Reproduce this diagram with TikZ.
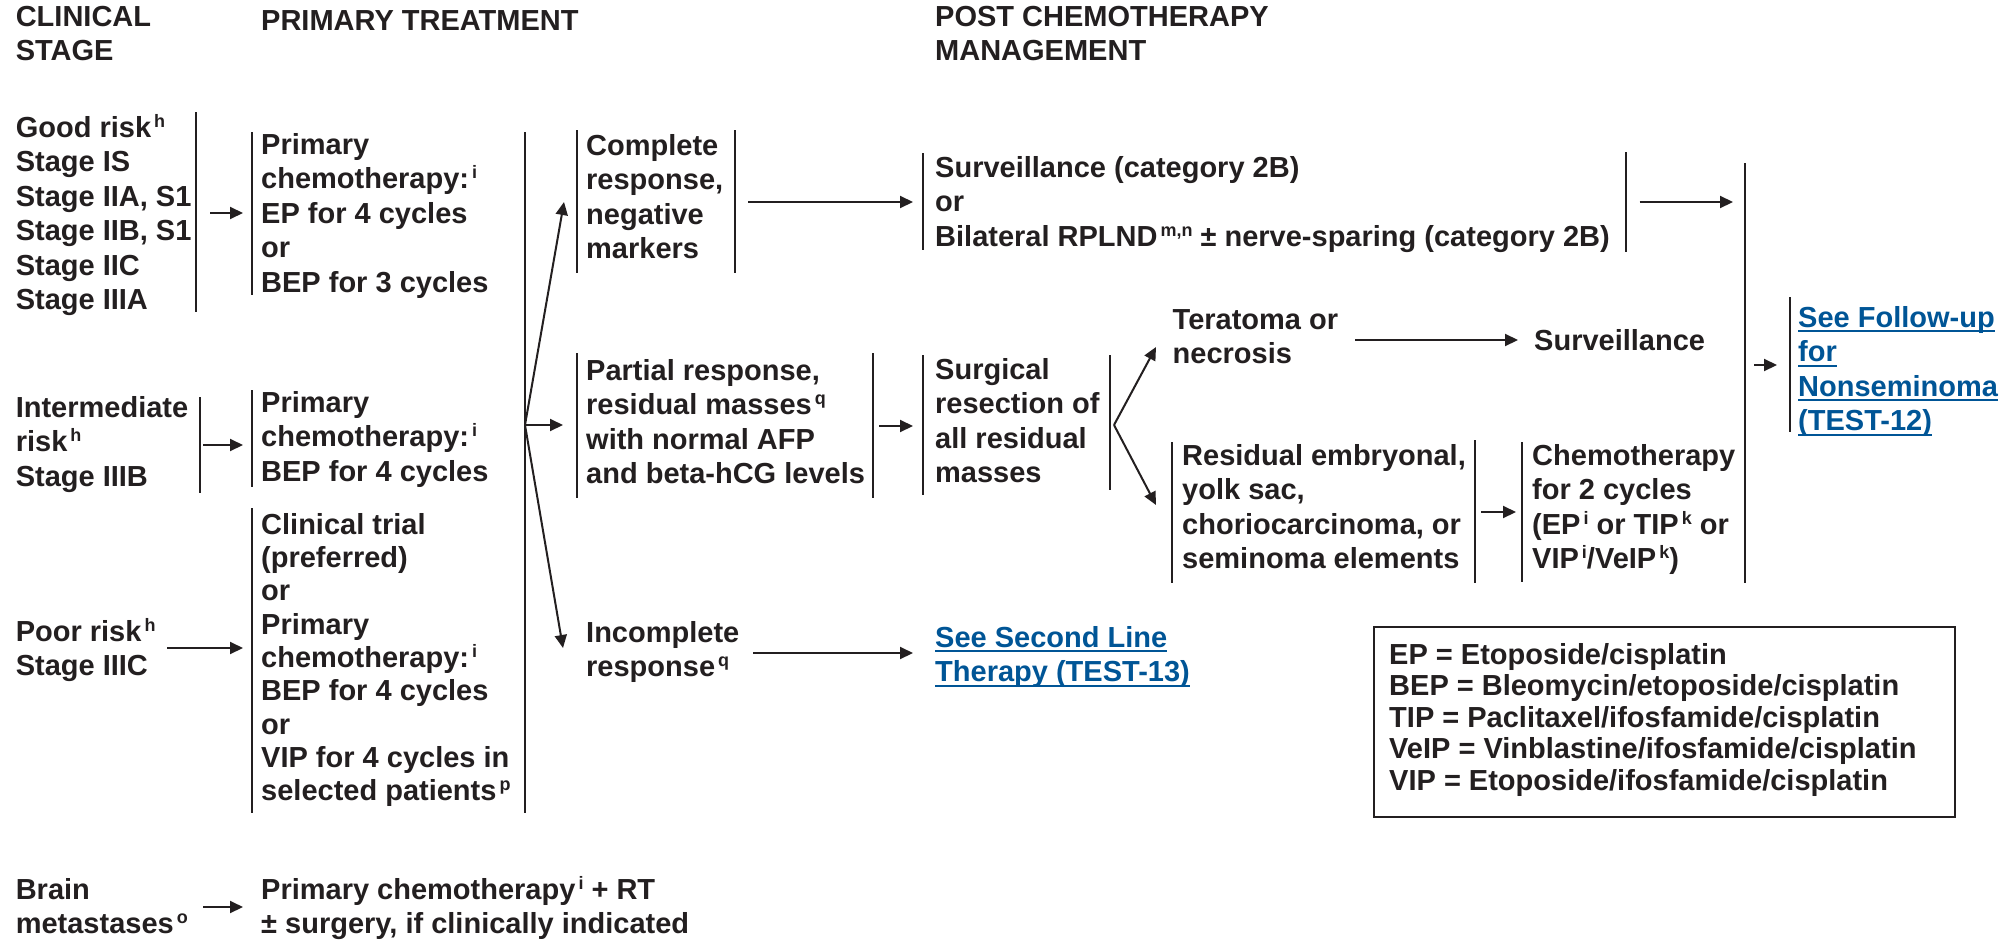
\documentclass[tikz,border=0pt]{standalone}
\usepackage{fontspec}
\setmainfont{Liberation Sans}
\usetikzlibrary{arrows.meta}

\definecolor{ink}{RGB}{35,31,32}
\definecolor{link}{RGB}{0,85,150}

% small raised footnote letters
\newcommand\fnote[1]{\kern3pt\raisebox{0.35em}{\fontsize{18}{18}\selectfont #1}}
% underlined link text
\newcommand\lnk[1]{\setbox0\hbox{#1}\rlap{\rule[-5pt]{\wd0}{1.8pt}}\box0}
% fixed height of the first line
\newcommand\topstrut{\rule{0pt}{24pt}}

\tikzset{
  txt/.style={anchor=north west, yshift=24pt, inner sep=0pt, align=left, text=ink,
    font=\fontsize{29}{34.5}\selectfont\bfseries, execute at begin node=\topstrut},
  linktxt/.style={txt, text=link},
  bar/.style={draw=ink, line width=2pt},
  arr/.style={draw=ink, line width=2pt, -{Triangle[length=13pt,width=12pt]}},
}

\begin{document}
\begin{tikzpicture}[x=1pt, y=-1pt]
    \useasboundingbox (0,0) rectangle (2012,942);

    % headings
    \node[txt] (hstage) at (15.6,30) {CLINICAL\\STAGE};
    \node[txt] (hprim) at (261,30) {PRIMARY TREATMENT};
    \node[txt] (hpost) at (935,30) {POST CHEMOTHERAPY\\MANAGEMENT};

    % clinical stage
    \node[txt] (good) at (15.6,138) {Good risk\fnote{h}\\Stage IS\\Stage IIA, S1\\Stage IIB, S1\\Stage IIC\\Stage IIIA};
    \node[txt] (inter) at (15.6,420) {Intermediate\\risk\fnote{h}\\Stage IIIB};
    \node[txt] (poor) at (15.6,642) {Poor risk\fnote{h}\\Stage IIIC};
    \node[txt] (brain) at (15.6,902) {Brain\\metastases\fnote{o}};

    % primary treatment
    \node[txt] (pc1) at (261,157) {Primary\\chemotherapy:\fnote{i}\\EP for 4 cycles\\or\\BEP for 3 cycles};
    \node[txt] (pc2) at (261,415) {Primary\\chemotherapy:\fnote{i}\\BEP for 4 cycles};
    \node[txt, font=\fontsize{29}{33.3}\selectfont\bfseries] (trial) at (261,537) {Clinical trial\\(preferred)\\or\\Primary\\chemotherapy:\fnote{i}\\BEP for 4 cycles\\or\\VIP for 4 cycles in\\selected patients\fnote{p}};
    \node[txt] (pcrt) at (261,900) {Primary chemotherapy\fnote{i} + RT\\± surgery, if clinically indicated};

    % response
    \node[txt] (compl) at (586,158) {Complete\\response,\\negative\\markers};
    \node[txt] (part) at (586,383) {Partial response,\\residual masses\fnote{q}\\with normal AFP\\and beta-hCG levels};
    \node[txt] (incompl) at (586,645) {Incomplete\\response\fnote{q}};

    % post chemotherapy management
    \node[txt] (surv) at (935,180) {Surveillance (category 2B)\\or\\Bilateral RPLND\fnote{m,n} ± nerve-sparing (category 2B)};
    \node[txt] (surg) at (935,382) {Surgical\\resection of\\all residual\\masses};
    \node[linktxt] (second) at (935,650) {\lnk{See Second Line}\\\lnk{Therapy (TEST-13)}};
    \node[txt] (terat) at (1172.5,333) {Teratoma or\\necrosis};
    \node[txt] (surv2) at (1534,350) {Surveillance};
    \node[txt] (resid) at (1182,468) {Residual embryonal,\\yolk sac,\\choriocarcinoma, or\\seminoma elements};
    \node[txt] (chemo) at (1532,468) {Chemotherapy\\for 2 cycles\\(EP\fnote{i} or TIP\fnote{k} or\\VIP\fnote{i}/VeIP\fnote{k})};
    \node[linktxt] (follow) at (1798,330) {\lnk{See Follow-up}\\\lnk{for}\\\lnk{Nonseminoma}\\\lnk{(TEST-12)}};

    % abbreviations
    \node[txt, font=\fontsize{29}{31.5}\selectfont\bfseries] (abbr) at (1389,667) {EP = Etoposide/cisplatin\\BEP = Bleomycin/etoposide/cisplatin\\TIP = Paclitaxel/ifosfamide/cisplatin\\VeIP = Vinblastine/ifosfamide/cisplatin\\VIP = Etoposide/ifosfamide/cisplatin};
    \draw[bar] (1374,627) rectangle (1955,817);

    % bars
    \draw[bar] (196,112) -- (196,312);
    \draw[bar] (252,132) -- (252,295);
    \draw[bar] (199.5,397) -- (199.5,493);
    \draw[bar] (252,390) -- (252,487);
    \draw[bar] (252,508) -- (252,813);
    \draw[bar] (524.5,132) -- (524.5,813);
    \draw[bar] (576.5,130) -- (576.5,273);
    \draw[bar] (735,130) -- (735,273);
    \draw[bar] (576.5,353) -- (576.5,498);
    \draw[bar] (872.5,353) -- (872.5,498);
    \draw[bar] (923,153) -- (923,250);
    \draw[bar] (1625.5,152) -- (1625.5,252);
    \draw[bar] (923,355) -- (923,495);
    \draw[bar] (1109.5,355) -- (1109.5,490);
    \draw[bar] (1171.6,442) -- (1171.6,583);
    \draw[bar] (1475,440) -- (1475,583);
    \draw[bar] (1522,442) -- (1522,582);
    \draw[bar] (1744.5,163) -- (1744.5,583);
    \draw[bar] (1790,297) -- (1790,432);

    % arrow ends
    \coordinate (good-out) at (210,213);
    \coordinate (pc1-in) at (243,213);
    \coordinate (inter-out) at (203,445);
    \coordinate (pc2-in) at (243,445);
    \coordinate (poor-out) at (167,648);
    \coordinate (trial-in) at (243,648);
    \coordinate (brain-out) at (203,907);
    \coordinate (pcrt-in) at (243,907);
    \coordinate (fan) at (525,425);
    \coordinate (compl-in) at (564,202);
    \coordinate (part-in) at (563,425);
    \coordinate (incompl-in) at (563,648);
    \coordinate (compl-out) at (748,202);
    \coordinate (surv-in) at (913,202);
    \coordinate (part-out) at (879,426);
    \coordinate (surg-in) at (913,426);
    \coordinate (incompl-out) at (753,653);
    \coordinate (second-in) at (913,653);
    \coordinate (fork) at (1114,425);
    \coordinate (terat-in) at (1156,347);
    \coordinate (resid-in) at (1156,505);
    \coordinate (terat-out) at (1355,340);
    \coordinate (surv2-in) at (1518,340);
    \coordinate (resid-out) at (1481,512);
    \coordinate (chemo-in) at (1516,512);
    \coordinate (surv-out) at (1639.5,202);
    \coordinate (join-in) at (1733,202);
    \coordinate (join-out) at (1754,365);
    \coordinate (follow-in) at (1777,365);

    % arrows
    \draw[arr] (good-out) -- (pc1-in);
    \draw[arr] (inter-out) -- (pc2-in);
    \draw[arr] (poor-out) -- (trial-in);
    \draw[arr] (brain-out) -- (pcrt-in);
    \draw[arr] (fan) -- (compl-in);
    \draw[arr] (fan) -- (part-in);
    \draw[arr] (fan) -- (incompl-in);
    \draw[arr] (compl-out) -- (surv-in);
    \draw[arr] (part-out) -- (surg-in);
    \draw[arr] (incompl-out) -- (second-in);
    \draw[arr] (fork) -- (terat-in);
    \draw[arr] (fork) -- (resid-in);
    \draw[arr] (terat-out) -- (surv2-in);
    \draw[arr] (resid-out) -- (chemo-in);
    \draw[arr] (surv-out) -- (join-in);
    \draw[arr] (join-out) -- (follow-in);
\end{tikzpicture}
\end{document}
